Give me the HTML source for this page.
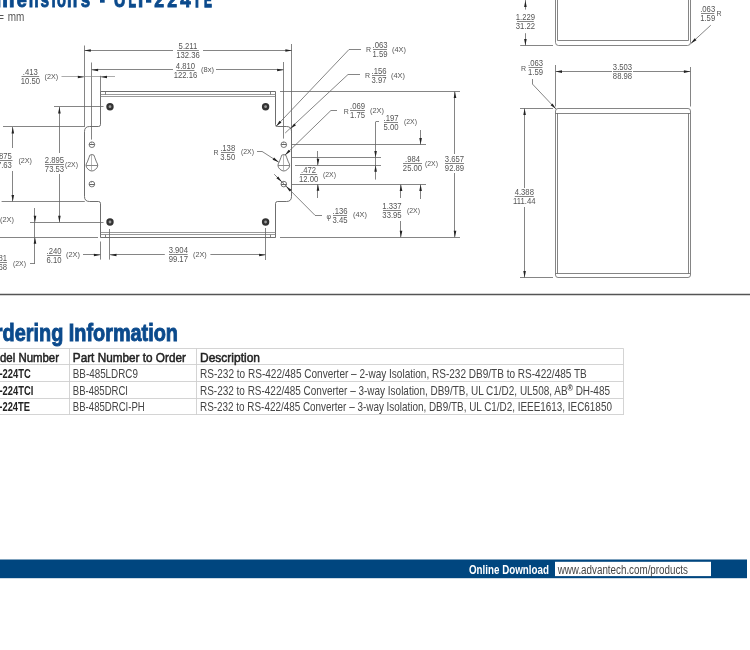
<!DOCTYPE html>
<html><head><meta charset="utf-8"><style>
html,body{margin:0;padding:0;background:#fff;width:750px;height:650px;overflow:hidden}
svg{display:block;will-change:transform;font-family:"Liberation Sans",sans-serif}
</style></head><body>
<svg width="750" height="650" viewBox="0 0 750 650">
<text x="-4.46" y="7.2" font-size="22" font-family="Liberation Sans" font-weight="bold" fill="#0b4a8c" stroke="#0b4a8c" stroke-width="0.9" textLength="19.05" lengthAdjust="spacingAndGlyphs">m</text>
<text x="16.74" y="7.2" font-size="22" font-family="Liberation Sans" font-weight="bold" fill="#0b4a8c" stroke="#0b4a8c" stroke-width="0.9" textLength="10.13" lengthAdjust="spacingAndGlyphs">e</text>
<text x="28.68" y="7.2" font-size="22" font-family="Liberation Sans" font-weight="bold" fill="#0b4a8c" stroke="#0b4a8c" stroke-width="0.9" textLength="9.86" lengthAdjust="spacingAndGlyphs">n</text>
<text x="40.61" y="7.2" font-size="22" font-family="Liberation Sans" font-weight="bold" fill="#0b4a8c" stroke="#0b4a8c" stroke-width="0.9" textLength="8.57" lengthAdjust="spacingAndGlyphs">s</text>
<text x="51.38" y="7.2" font-size="22" font-family="Liberation Sans" font-weight="bold" fill="#0b4a8c" stroke="#0b4a8c" stroke-width="0.9" textLength="4.26" lengthAdjust="spacingAndGlyphs">i</text>
<text x="56.88" y="7.2" font-size="22" font-family="Liberation Sans" font-weight="bold" fill="#0b4a8c" stroke="#0b4a8c" stroke-width="0.9" textLength="8.94" lengthAdjust="spacingAndGlyphs">o</text>
<text x="67.04" y="7.2" font-size="22" font-family="Liberation Sans" font-weight="bold" fill="#0b4a8c" stroke="#0b4a8c" stroke-width="0.9" textLength="10.24" lengthAdjust="spacingAndGlyphs">n</text>
<text x="80.86" y="7.2" font-size="22" font-family="Liberation Sans" font-weight="bold" fill="#0b4a8c" stroke="#0b4a8c" stroke-width="0.9" textLength="9.39" lengthAdjust="spacingAndGlyphs">s</text>
<text x="113.77" y="7.2" font-size="22" font-family="Liberation Sans" font-weight="bold" fill="#0b4a8c" stroke="#0b4a8c" stroke-width="0.9" textLength="11.78" lengthAdjust="spacingAndGlyphs">U</text>
<text x="128.59" y="7.2" font-size="22" font-family="Liberation Sans" font-weight="bold" fill="#0b4a8c" stroke="#0b4a8c" stroke-width="1.4" textLength="7.38" lengthAdjust="spacingAndGlyphs">L</text>
<text x="137.89" y="7.2" font-size="22" font-family="Liberation Sans" font-weight="bold" fill="#0b4a8c" stroke="#0b4a8c" stroke-width="0.9" textLength="5.21" lengthAdjust="spacingAndGlyphs">I</text>
<text x="154.13" y="7.2" font-size="22" font-family="Liberation Sans" font-weight="bold" fill="#0b4a8c" stroke="#0b4a8c" stroke-width="0.9" textLength="9.83" lengthAdjust="spacingAndGlyphs">2</text>
<text x="167.13" y="7.2" font-size="22" font-family="Liberation Sans" font-weight="bold" fill="#0b4a8c" stroke="#0b4a8c" stroke-width="0.9" textLength="9.83" lengthAdjust="spacingAndGlyphs">2</text>
<text x="180.17" y="7.2" font-size="22" font-family="Liberation Sans" font-weight="bold" fill="#0b4a8c" stroke="#0b4a8c" stroke-width="0.9" textLength="10.48" lengthAdjust="spacingAndGlyphs">4</text>
<text x="192.85" y="7.2" font-size="22" font-family="Liberation Sans" font-weight="bold" fill="#0b4a8c" stroke="#0b4a8c" stroke-width="1.4" textLength="8.40" lengthAdjust="spacingAndGlyphs">T</text>
<text x="203.91" y="7.2" font-size="22" font-family="Liberation Sans" font-weight="bold" fill="#0b4a8c" stroke="#0b4a8c" stroke-width="1.4" textLength="7.85" lengthAdjust="spacingAndGlyphs">E</text>
<rect x="100" y="-2" width="4.7" height="4.7" fill="#0b4a8c"/>
<rect x="146" y="-2" width="5.3" height="4.7" fill="#0b4a8c"/>
<text x="7.7" y="20.8" font-size="13.5" font-family="Liberation Sans" font-weight="normal" fill="#555" text-anchor="start" textLength="16.6" lengthAdjust="spacingAndGlyphs">mm</text>
<text x="4.2" y="20.8" font-size="13.5" font-family="Liberation Sans" font-weight="normal" fill="#555" text-anchor="end">=</text>
<path d="M100.5,91.5 L275.5,91.5 L275.5,124.5 Q275.5,126.5 277.5,126.5 L286.5,126.5 Q291.5,126.5 291.5,131.5 L291.5,196.5 Q291.5,201.5 286.5,201.5 L277.5,201.5 Q275.5,201.5 275.5,203.5 L275.5,237.5 L100.5,237.5 L100.5,203.5 Q100.5,201.5 98.5,201.5 L89.5,201.5 Q84.5,201.5 84.5,196.5 L84.5,131.5 Q84.5,126.5 89.5,126.5 L98.5,126.5 Q100.5,126.5 100.5,124.5 Z" stroke="#555" stroke-width="0.85" fill="none"/>
<line x1="100.5" y1="94.5" x2="275.6" y2="94.5" stroke="#808080" stroke-width="0.8"/>
<line x1="100.5" y1="96.5" x2="275.6" y2="96.5" stroke="#808080" stroke-width="0.8"/>
<line x1="105.5" y1="91.5" x2="105.5" y2="94.5" stroke="#666" stroke-width="0.8"/>
<line x1="270.5" y1="91.5" x2="270.5" y2="94.5" stroke="#666" stroke-width="0.8"/>
<line x1="100.5" y1="232.5" x2="275.6" y2="232.5" stroke="#808080" stroke-width="0.8"/>
<line x1="100.5" y1="234.5" x2="275.6" y2="234.5" stroke="#808080" stroke-width="0.8"/>
<line x1="105.5" y1="234.8" x2="105.5" y2="237.2" stroke="#666" stroke-width="0.8"/>
<line x1="270.5" y1="234.8" x2="270.5" y2="237.2" stroke="#666" stroke-width="0.8"/>
<circle cx="110" cy="106.7" r="3.7" fill="#333"/>
<circle cx="110" cy="106.7" r="1.4" fill="#999"/>
<circle cx="265.6" cy="106.7" r="3.7" fill="#333"/>
<circle cx="265.6" cy="106.7" r="1.4" fill="#999"/>
<circle cx="110" cy="222" r="3.7" fill="#333"/>
<circle cx="110" cy="222" r="1.4" fill="#999"/>
<circle cx="265.6" cy="222" r="3.7" fill="#333"/>
<circle cx="265.6" cy="222" r="1.4" fill="#999"/>
<circle cx="91.9" cy="144.7" r="2.8" stroke="#555" stroke-width="0.8" fill="none"/>
<line x1="89.30000000000001" y1="144.5" x2="94.5" y2="144.5" stroke="#555" stroke-width="0.9"/>
<line x1="91.5" y1="141.89999999999998" x2="91.5" y2="143.5" stroke="#666" stroke-width="0.5"/>
<circle cx="91.9" cy="184.1" r="2.8" stroke="#555" stroke-width="0.8" fill="none"/>
<line x1="89.30000000000001" y1="184.5" x2="94.5" y2="184.5" stroke="#555" stroke-width="0.9"/>
<line x1="91.5" y1="181.29999999999998" x2="91.5" y2="182.9" stroke="#666" stroke-width="0.5"/>
<path d="M89.10,157.3 A2.8,2.8 0 0 1 94.70,157.3 L96.45,161.9 A5.6,5.6 0 1 1 87.35,161.9 Z" stroke="#555" stroke-width="0.8" fill="none"/>
<line x1="86.30000000000001" y1="165.5" x2="97.5" y2="165.5" stroke="#555" stroke-width="0.7"/>
<line x1="91.5" y1="154.5" x2="91.5" y2="170.6" stroke="#888" stroke-width="0.6"/>
<circle cx="283.8" cy="144.7" r="2.8" stroke="#555" stroke-width="0.8" fill="none"/>
<line x1="281.2" y1="144.5" x2="286.40000000000003" y2="144.5" stroke="#555" stroke-width="0.9"/>
<line x1="283.5" y1="141.89999999999998" x2="283.5" y2="143.5" stroke="#666" stroke-width="0.5"/>
<circle cx="283.8" cy="184.1" r="2.8" stroke="#555" stroke-width="0.8" fill="none"/>
<line x1="281.2" y1="184.5" x2="286.40000000000003" y2="184.5" stroke="#555" stroke-width="0.9"/>
<line x1="283.5" y1="181.29999999999998" x2="283.5" y2="182.9" stroke="#666" stroke-width="0.5"/>
<path d="M281.00,157.3 A2.8,2.8 0 0 1 286.60,157.3 L288.35,161.9 A5.6,5.6 0 1 1 279.25,161.9 Z" stroke="#555" stroke-width="0.8" fill="none"/>
<line x1="278.2" y1="165.5" x2="289.40000000000003" y2="165.5" stroke="#555" stroke-width="0.7"/>
<line x1="283.5" y1="154.5" x2="283.5" y2="170.6" stroke="#888" stroke-width="0.6"/>
<line x1="84.5" y1="45.5" x2="84.5" y2="127" stroke="#666" stroke-width="0.8"/>
<line x1="291.5" y1="44" x2="291.5" y2="133" stroke="#666" stroke-width="0.8"/>
<line x1="84.3" y1="50.5" x2="173" y2="50.5" stroke="#666" stroke-width="0.8"/>
<line x1="203" y1="50.5" x2="291.9" y2="50.5" stroke="#666" stroke-width="0.8"/>
<path d="M84.30,50.50 L90.80,49.20 L90.80,51.80Z" fill="#222"/>
<path d="M291.90,50.50 L285.40,51.80 L285.40,49.20Z" fill="#222"/>
<line x1="177" y1="50.5" x2="198.9" y2="50.5" stroke="#666" stroke-width="0.8"/>
<text x="187.95" y="48.5" font-size="8.4" font-family="Liberation Sans" font-weight="normal" fill="#555" text-anchor="middle" textLength="18.7" lengthAdjust="spacingAndGlyphs">5.211</text>
<text x="187.95" y="58.0" font-size="8.4" font-family="Liberation Sans" font-weight="normal" fill="#555" text-anchor="middle" textLength="23.55" lengthAdjust="spacingAndGlyphs">132.36</text>
<line x1="91.5" y1="62.5" x2="91.5" y2="139.6" stroke="#666" stroke-width="0.8"/>
<line x1="283.5" y1="62" x2="283.5" y2="138.6" stroke="#666" stroke-width="0.8"/>
<line x1="91.6" y1="69.5" x2="173" y2="69.5" stroke="#666" stroke-width="0.8"/>
<line x1="216" y1="69.5" x2="283.6" y2="69.5" stroke="#666" stroke-width="0.8"/>
<path d="M91.60,70.00 L98.10,68.70 L98.10,71.30Z" fill="#222"/>
<path d="M283.60,70.00 L277.10,71.30 L277.10,68.70Z" fill="#222"/>
<line x1="176.5" y1="70.5" x2="194.5" y2="70.5" stroke="#666" stroke-width="0.8"/>
<text x="185.5" y="68.5" font-size="8.4" font-family="Liberation Sans" font-weight="normal" fill="#555" text-anchor="middle" textLength="19.27" lengthAdjust="spacingAndGlyphs">4.810</text>
<text x="185.5" y="78.0" font-size="8.4" font-family="Liberation Sans" font-weight="normal" fill="#555" text-anchor="middle" textLength="23.55" lengthAdjust="spacingAndGlyphs">122.16</text>
<text x="207.5" y="72.3" font-size="6.6" font-family="Liberation Sans" font-weight="normal" fill="#555" text-anchor="middle" textLength="13" lengthAdjust="spacingAndGlyphs">(8x)</text>
<line x1="61.5" y1="76.5" x2="115" y2="76.5" stroke="#888" stroke-width="0.7"/>
<path d="M84.30,77.00 L77.80,78.30 L77.80,75.70Z" fill="#222"/>
<path d="M100.50,77.00 L107.00,75.70 L107.00,78.30Z" fill="#222"/>
<line x1="100.5" y1="75.8" x2="100.5" y2="91.5" stroke="#666" stroke-width="0.8"/>
<line x1="21.5" y1="76.5" x2="39.2" y2="76.5" stroke="#666" stroke-width="0.8"/>
<text x="30.35" y="74.5" font-size="8.4" font-family="Liberation Sans" font-weight="normal" fill="#555" text-anchor="middle" textLength="14.99" lengthAdjust="spacingAndGlyphs">.413</text>
<text x="30.35" y="84.0" font-size="8.4" font-family="Liberation Sans" font-weight="normal" fill="#555" text-anchor="middle" textLength="19.27" lengthAdjust="spacingAndGlyphs">10.50</text>
<text x="51.400000000000006" y="79.3" font-size="6.6" font-family="Liberation Sans" font-weight="normal" fill="#555" text-anchor="middle" textLength="13.600000000000001" lengthAdjust="spacingAndGlyphs">(2X)</text>
<line x1="54" y1="106.5" x2="103.5" y2="106.5" stroke="#666" stroke-width="0.8"/>
<line x1="59.5" y1="107" x2="59.5" y2="153" stroke="#666" stroke-width="0.8"/>
<path d="M59.40,107.00 L60.70,113.50 L58.10,113.50Z" fill="#222"/>
<line x1="59.5" y1="174" x2="59.5" y2="222.2" stroke="#666" stroke-width="0.8"/>
<path d="M59.40,222.20 L58.10,215.70 L60.70,215.70Z" fill="#222"/>
<line x1="45" y1="164.5" x2="64" y2="164.5" stroke="#666" stroke-width="0.8"/>
<text x="54.5" y="162.5" font-size="8.4" font-family="Liberation Sans" font-weight="normal" fill="#555" text-anchor="middle" textLength="19.27" lengthAdjust="spacingAndGlyphs">2.895</text>
<text x="54.5" y="172.0" font-size="8.4" font-family="Liberation Sans" font-weight="normal" fill="#555" text-anchor="middle" textLength="19.27" lengthAdjust="spacingAndGlyphs">73.53</text>
<text x="71.5" y="166.70000000000002" font-size="6.6" font-family="Liberation Sans" font-weight="normal" fill="#555" text-anchor="middle" textLength="13" lengthAdjust="spacingAndGlyphs">(2X)</text>
<line x1="3" y1="126.5" x2="84.3" y2="126.5" stroke="#666" stroke-width="0.8"/>
<line x1="1.6" y1="201.5" x2="84.8" y2="201.5" stroke="#666" stroke-width="0.8"/>
<line x1="12.5" y1="127" x2="12.5" y2="148" stroke="#666" stroke-width="0.8"/>
<path d="M12.80,127.00 L14.10,133.50 L11.50,133.50Z" fill="#222"/>
<line x1="12.5" y1="171" x2="12.5" y2="201.5" stroke="#666" stroke-width="0.8"/>
<path d="M12.80,201.50 L11.50,195.00 L14.10,195.00Z" fill="#222"/>
<line x1="-8" y1="160.5" x2="12.5" y2="160.5" stroke="#666" stroke-width="0.8"/>
<text x="2.25" y="158.5" font-size="8.4" font-family="Liberation Sans" font-weight="normal" fill="#555" text-anchor="middle" textLength="19.27" lengthAdjust="spacingAndGlyphs">1.875</text>
<text x="2.25" y="168.0" font-size="8.4" font-family="Liberation Sans" font-weight="normal" fill="#555" text-anchor="middle" textLength="19.27" lengthAdjust="spacingAndGlyphs">47.63</text>
<text x="25.2" y="162.70000000000002" font-size="6.6" font-family="Liberation Sans" font-weight="normal" fill="#555" text-anchor="middle" textLength="13.600000000000001" lengthAdjust="spacingAndGlyphs">(2X)</text>
<text x="7.0" y="221.9" font-size="6.6" font-family="Liberation Sans" font-weight="normal" fill="#555" text-anchor="middle" textLength="14" lengthAdjust="spacingAndGlyphs">(2X)</text>
<line x1="30" y1="222.5" x2="103.5" y2="222.5" stroke="#666" stroke-width="0.8"/>
<line x1="0" y1="237.5" x2="98" y2="237.5" stroke="#666" stroke-width="0.8"/>
<line x1="34.5" y1="208" x2="34.5" y2="263.6" stroke="#666" stroke-width="0.8"/>
<path d="M35.00,222.20 L33.70,215.70 L36.30,215.70Z" fill="#222"/>
<path d="M35.00,237.20 L36.30,243.70 L33.70,243.70Z" fill="#222"/>
<line x1="30" y1="263.5" x2="35" y2="263.5" stroke="#666" stroke-width="0.8"/>
<line x1="-8" y1="262.5" x2="7" y2="262.5" stroke="#666" stroke-width="0.8"/>
<text x="-0.5" y="260.5" font-size="8.4" font-family="Liberation Sans" font-weight="normal" fill="#555" text-anchor="middle" textLength="14.99" lengthAdjust="spacingAndGlyphs">.381</text>
<text x="-0.5" y="270.0" font-size="8.4" font-family="Liberation Sans" font-weight="normal" fill="#555" text-anchor="middle" textLength="14.99" lengthAdjust="spacingAndGlyphs">9.68</text>
<text x="19.5" y="265.90000000000003" font-size="6.6" font-family="Liberation Sans" font-weight="normal" fill="#555" text-anchor="middle" textLength="13" lengthAdjust="spacingAndGlyphs">(2X)</text>
<line x1="100.5" y1="241.5" x2="100.5" y2="259.6" stroke="#666" stroke-width="0.8"/>
<line x1="109.5" y1="229" x2="109.5" y2="259.6" stroke="#666" stroke-width="0.8"/>
<line x1="265.5" y1="228" x2="265.5" y2="260" stroke="#666" stroke-width="0.8"/>
<line x1="83" y1="254.5" x2="100.4" y2="254.5" stroke="#666" stroke-width="0.8"/>
<path d="M100.40,255.00 L93.90,256.30 L93.90,253.70Z" fill="#222"/>
<line x1="110" y1="254.5" x2="164.8" y2="254.5" stroke="#666" stroke-width="0.8"/>
<path d="M110.00,255.00 L116.50,253.70 L116.50,256.30Z" fill="#222"/>
<line x1="210.4" y1="254.5" x2="265.6" y2="254.5" stroke="#666" stroke-width="0.8"/>
<path d="M265.60,255.00 L259.10,256.30 L259.10,253.70Z" fill="#222"/>
<line x1="47" y1="255.5" x2="61" y2="255.5" stroke="#666" stroke-width="0.8"/>
<text x="54.0" y="253.5" font-size="8.4" font-family="Liberation Sans" font-weight="normal" fill="#555" text-anchor="middle" textLength="14.99" lengthAdjust="spacingAndGlyphs">.240</text>
<text x="54.0" y="263.0" font-size="8.4" font-family="Liberation Sans" font-weight="normal" fill="#555" text-anchor="middle" textLength="14.99" lengthAdjust="spacingAndGlyphs">6.10</text>
<text x="73.0" y="257.3" font-size="6.6" font-family="Liberation Sans" font-weight="normal" fill="#555" text-anchor="middle" textLength="14" lengthAdjust="spacingAndGlyphs">(2X)</text>
<line x1="169" y1="254.5" x2="187.6" y2="254.5" stroke="#666" stroke-width="0.8"/>
<text x="178.3" y="252.5" font-size="8.4" font-family="Liberation Sans" font-weight="normal" fill="#555" text-anchor="middle" textLength="19.27" lengthAdjust="spacingAndGlyphs">3.904</text>
<text x="178.3" y="262.0" font-size="8.4" font-family="Liberation Sans" font-weight="normal" fill="#555" text-anchor="middle" textLength="19.27" lengthAdjust="spacingAndGlyphs">99.17</text>
<text x="199.9" y="257.3" font-size="6.6" font-family="Liberation Sans" font-weight="normal" fill="#555" text-anchor="middle" textLength="13.800000000000011" lengthAdjust="spacingAndGlyphs">(2X)</text>
<line x1="280" y1="91.5" x2="460" y2="91.5" stroke="#666" stroke-width="0.8"/>
<line x1="280" y1="237.5" x2="460" y2="237.5" stroke="#666" stroke-width="0.8"/>
<line x1="454.5" y1="91.5" x2="454.5" y2="154" stroke="#666" stroke-width="0.8"/>
<path d="M455.00,91.50 L456.30,98.00 L453.70,98.00Z" fill="#222"/>
<line x1="454.5" y1="173" x2="454.5" y2="237.2" stroke="#666" stroke-width="0.8"/>
<path d="M455.00,237.20 L453.70,230.70 L456.30,230.70Z" fill="#222"/>
<line x1="445" y1="163.5" x2="464" y2="163.5" stroke="#666" stroke-width="0.8"/>
<text x="454.5" y="161.5" font-size="8.4" font-family="Liberation Sans" font-weight="normal" fill="#555" text-anchor="middle" textLength="19.27" lengthAdjust="spacingAndGlyphs">3.657</text>
<text x="454.5" y="171.0" font-size="8.4" font-family="Liberation Sans" font-weight="normal" fill="#555" text-anchor="middle" textLength="19.27" lengthAdjust="spacingAndGlyphs">92.89</text>
<line x1="292" y1="144.5" x2="426" y2="144.5" stroke="#666" stroke-width="0.8"/>
<line x1="292" y1="157.5" x2="381" y2="157.5" stroke="#666" stroke-width="0.8"/>
<line x1="295" y1="165.5" x2="381" y2="165.5" stroke="#666" stroke-width="0.8"/>
<line x1="292" y1="184.5" x2="426" y2="184.5" stroke="#666" stroke-width="0.8"/>
<line x1="375.5" y1="122" x2="375.5" y2="179.6" stroke="#666" stroke-width="0.8"/>
<line x1="375.6" y1="121.5" x2="379" y2="121.5" stroke="#666" stroke-width="0.8"/>
<path d="M375.60,157.50 L374.30,151.00 L376.90,151.00Z" fill="#222"/>
<path d="M375.60,165.20 L376.90,171.70 L374.30,171.70Z" fill="#222"/>
<line x1="384" y1="122.5" x2="398" y2="122.5" stroke="#666" stroke-width="0.8"/>
<text x="391.0" y="120.5" font-size="8.4" font-family="Liberation Sans" font-weight="normal" fill="#555" text-anchor="middle" textLength="14.99" lengthAdjust="spacingAndGlyphs">.197</text>
<text x="391.0" y="130.0" font-size="8.4" font-family="Liberation Sans" font-weight="normal" fill="#555" text-anchor="middle" textLength="14.99" lengthAdjust="spacingAndGlyphs">5.00</text>
<text x="410.5" y="124.3" font-size="6.6" font-family="Liberation Sans" font-weight="normal" fill="#555" text-anchor="middle" textLength="13" lengthAdjust="spacingAndGlyphs">(2X)</text>
<line x1="420.5" y1="130" x2="420.5" y2="144.6" stroke="#666" stroke-width="0.8"/>
<path d="M420.60,144.60 L419.30,138.10 L421.90,138.10Z" fill="#222"/>
<line x1="420.5" y1="184.4" x2="420.5" y2="199" stroke="#666" stroke-width="0.8"/>
<path d="M420.60,184.40 L421.90,190.90 L419.30,190.90Z" fill="#222"/>
<line x1="403" y1="163.5" x2="422" y2="163.5" stroke="#666" stroke-width="0.8"/>
<text x="412.5" y="161.5" font-size="8.4" font-family="Liberation Sans" font-weight="normal" fill="#555" text-anchor="middle" textLength="14.99" lengthAdjust="spacingAndGlyphs">.984</text>
<text x="412.5" y="171.0" font-size="8.4" font-family="Liberation Sans" font-weight="normal" fill="#555" text-anchor="middle" textLength="19.27" lengthAdjust="spacingAndGlyphs">25.00</text>
<text x="431.5" y="166.3" font-size="6.6" font-family="Liberation Sans" font-weight="normal" fill="#555" text-anchor="middle" textLength="13" lengthAdjust="spacingAndGlyphs">(2X)</text>
<line x1="400.5" y1="184.4" x2="400.5" y2="198" stroke="#666" stroke-width="0.8"/>
<path d="M401.00,184.40 L402.30,190.90 L399.70,190.90Z" fill="#222"/>
<line x1="400.5" y1="221" x2="400.5" y2="237.2" stroke="#666" stroke-width="0.8"/>
<path d="M401.00,237.20 L399.70,230.70 L402.30,230.70Z" fill="#222"/>
<line x1="383" y1="210.5" x2="401" y2="210.5" stroke="#666" stroke-width="0.8"/>
<text x="392.0" y="208.5" font-size="8.4" font-family="Liberation Sans" font-weight="normal" fill="#555" text-anchor="middle" textLength="19.27" lengthAdjust="spacingAndGlyphs">1.337</text>
<text x="392.0" y="218.0" font-size="8.4" font-family="Liberation Sans" font-weight="normal" fill="#555" text-anchor="middle" textLength="19.27" lengthAdjust="spacingAndGlyphs">33.95</text>
<text x="413.5" y="213.3" font-size="6.6" font-family="Liberation Sans" font-weight="normal" fill="#555" text-anchor="middle" textLength="13" lengthAdjust="spacingAndGlyphs">(2X)</text>
<line x1="317.5" y1="151" x2="317.5" y2="165.2" stroke="#666" stroke-width="0.8"/>
<path d="M318.00,165.20 L316.70,158.70 L319.30,158.70Z" fill="#222"/>
<line x1="317.5" y1="184.2" x2="317.5" y2="198" stroke="#666" stroke-width="0.8"/>
<path d="M318.00,184.20 L319.30,190.70 L316.70,190.70Z" fill="#222"/>
<line x1="300" y1="174.5" x2="317.2" y2="174.5" stroke="#666" stroke-width="0.8"/>
<text x="308.6" y="172.5" font-size="8.4" font-family="Liberation Sans" font-weight="normal" fill="#555" text-anchor="middle" textLength="14.99" lengthAdjust="spacingAndGlyphs">.472</text>
<text x="308.6" y="182.0" font-size="8.4" font-family="Liberation Sans" font-weight="normal" fill="#555" text-anchor="middle" textLength="19.27" lengthAdjust="spacingAndGlyphs">12.00</text>
<text x="329.5" y="177.3" font-size="6.6" font-family="Liberation Sans" font-weight="normal" fill="#555" text-anchor="middle" textLength="13" lengthAdjust="spacingAndGlyphs">(2X)</text>
<line x1="349" y1="49.5" x2="361" y2="49.5" stroke="#666" stroke-width="0.8"/>
<line x1="349" y1="49.5" x2="276" y2="126.4" stroke="#666" stroke-width="0.8"/>
<path d="M276.00,126.40 L279.53,120.79 L281.42,122.58Z" fill="#222"/>
<text x="366" y="52.3" font-size="7" font-family="Liberation Sans" font-weight="normal" fill="#555" text-anchor="start">R</text>
<line x1="373" y1="49.5" x2="387" y2="49.5" stroke="#666" stroke-width="0.8"/>
<text x="380.0" y="47.5" font-size="8.4" font-family="Liberation Sans" font-weight="normal" fill="#555" text-anchor="middle" textLength="14.99" lengthAdjust="spacingAndGlyphs">.063</text>
<text x="380.0" y="57.0" font-size="8.4" font-family="Liberation Sans" font-weight="normal" fill="#555" text-anchor="middle" textLength="14.99" lengthAdjust="spacingAndGlyphs">1.59</text>
<text x="399.0" y="52.3" font-size="6.6" font-family="Liberation Sans" font-weight="normal" fill="#555" text-anchor="middle" textLength="14" lengthAdjust="spacingAndGlyphs">(4X)</text>
<line x1="348" y1="74.5" x2="360" y2="74.5" stroke="#666" stroke-width="0.8"/>
<line x1="348" y1="74.5" x2="285.2" y2="133" stroke="#666" stroke-width="0.8"/>
<path d="M290.40,128.80 L294.24,123.40 L296.02,125.29Z" fill="#222"/>
<text x="365" y="78.3" font-size="7" font-family="Liberation Sans" font-weight="normal" fill="#555" text-anchor="start">R</text>
<line x1="372" y1="75.5" x2="386" y2="75.5" stroke="#666" stroke-width="0.8"/>
<text x="379.0" y="73.5" font-size="8.4" font-family="Liberation Sans" font-weight="normal" fill="#555" text-anchor="middle" textLength="14.99" lengthAdjust="spacingAndGlyphs">.156</text>
<text x="379.0" y="83.0" font-size="8.4" font-family="Liberation Sans" font-weight="normal" fill="#555" text-anchor="middle" textLength="14.99" lengthAdjust="spacingAndGlyphs">3.97</text>
<text x="398.0" y="77.8" font-size="6.6" font-family="Liberation Sans" font-weight="normal" fill="#555" text-anchor="middle" textLength="14" lengthAdjust="spacingAndGlyphs">(4X)</text>
<line x1="331" y1="110.5" x2="337" y2="110.5" stroke="#666" stroke-width="0.8"/>
<line x1="331" y1="110.4" x2="284.9" y2="155.2" stroke="#666" stroke-width="0.8"/>
<path d="M284.90,155.20 L288.65,149.73 L290.46,151.60Z" fill="#222"/>
<text x="343.8" y="113.5" font-size="7" font-family="Liberation Sans" font-weight="normal" fill="#555" text-anchor="start">R</text>
<line x1="350" y1="110.5" x2="365" y2="110.5" stroke="#666" stroke-width="0.8"/>
<text x="357.5" y="108.5" font-size="8.4" font-family="Liberation Sans" font-weight="normal" fill="#555" text-anchor="middle" textLength="14.99" lengthAdjust="spacingAndGlyphs">.069</text>
<text x="357.5" y="118.0" font-size="8.4" font-family="Liberation Sans" font-weight="normal" fill="#555" text-anchor="middle" textLength="14.99" lengthAdjust="spacingAndGlyphs">1.75</text>
<text x="377.0" y="112.7" font-size="6.6" font-family="Liberation Sans" font-weight="normal" fill="#555" text-anchor="middle" textLength="14" lengthAdjust="spacingAndGlyphs">(2X)</text>
<line x1="257" y1="151.5" x2="262" y2="151.5" stroke="#666" stroke-width="0.8"/>
<line x1="262" y1="151.4" x2="278.8" y2="162.2" stroke="#666" stroke-width="0.8"/>
<path d="M278.80,162.20 L272.63,159.78 L274.04,157.59Z" fill="#222"/>
<text x="213.6" y="154.7" font-size="7" font-family="Liberation Sans" font-weight="normal" fill="#555" text-anchor="start">R</text>
<line x1="221" y1="152.5" x2="234.4" y2="152.5" stroke="#666" stroke-width="0.8"/>
<text x="227.7" y="150.5" font-size="8.4" font-family="Liberation Sans" font-weight="normal" fill="#555" text-anchor="middle" textLength="14.99" lengthAdjust="spacingAndGlyphs">.138</text>
<text x="227.7" y="160.0" font-size="8.4" font-family="Liberation Sans" font-weight="normal" fill="#555" text-anchor="middle" textLength="14.99" lengthAdjust="spacingAndGlyphs">3.50</text>
<text x="247.5" y="154.3" font-size="6.6" font-family="Liberation Sans" font-weight="normal" fill="#555" text-anchor="middle" textLength="13" lengthAdjust="spacingAndGlyphs">(2X)</text>
<line x1="274.2" y1="174.2" x2="315" y2="215.3" stroke="#666" stroke-width="0.8"/>
<line x1="315" y1="215.5" x2="322" y2="215.5" stroke="#666" stroke-width="0.8"/>
<path d="M281.90,182.00 L276.38,178.32 L278.22,176.48Z" fill="#222"/>
<path d="M285.90,186.10 L291.42,189.78 L289.58,191.62Z" fill="#222"/>
<text x="326.5" y="218.5" font-size="7" font-family="Liberation Sans" font-weight="normal" fill="#555" text-anchor="start">φ</text>
<line x1="333" y1="215.5" x2="347" y2="215.5" stroke="#666" stroke-width="0.8"/>
<text x="340.0" y="213.5" font-size="8.4" font-family="Liberation Sans" font-weight="normal" fill="#555" text-anchor="middle" textLength="14.99" lengthAdjust="spacingAndGlyphs">.136</text>
<text x="340.0" y="223.0" font-size="8.4" font-family="Liberation Sans" font-weight="normal" fill="#555" text-anchor="middle" textLength="14.99" lengthAdjust="spacingAndGlyphs">3.45</text>
<text x="360.0" y="217.3" font-size="6.6" font-family="Liberation Sans" font-weight="normal" fill="#555" text-anchor="middle" textLength="14" lengthAdjust="spacingAndGlyphs">(4X)</text>
<path d="M555.5,0 L555.5,42.5 Q555.5,45.5 558.5,45.5 L687.5,45.5 Q690.5,45.5 690.5,42.5 L690.5,0" stroke="#666" stroke-width="0.8" fill="none"/>
<line x1="557.5" y1="0" x2="557.5" y2="40.4" stroke="#666" stroke-width="0.8"/>
<line x1="557.4" y1="40.5" x2="688.6" y2="40.5" stroke="#666" stroke-width="0.8"/>
<line x1="688.5" y1="0" x2="688.5" y2="40.4" stroke="#666" stroke-width="0.8"/>
<line x1="525.5" y1="0" x2="525.5" y2="9.6" stroke="#666" stroke-width="0.8"/>
<path d="M525.40,0.50 L526.70,7.00 L524.10,7.00Z" fill="#222"/>
<line x1="525.5" y1="33.2" x2="525.5" y2="45.5" stroke="#666" stroke-width="0.8"/>
<path d="M525.40,45.50 L524.10,39.00 L526.70,39.00Z" fill="#222"/>
<line x1="520.2" y1="45.5" x2="553" y2="45.5" stroke="#666" stroke-width="0.8"/>
<line x1="517" y1="21.5" x2="533.8" y2="21.5" stroke="#666" stroke-width="0.8"/>
<text x="525.4" y="19.5" font-size="8.4" font-family="Liberation Sans" font-weight="normal" fill="#555" text-anchor="middle" textLength="19.27" lengthAdjust="spacingAndGlyphs">1.229</text>
<text x="525.4" y="29.0" font-size="8.4" font-family="Liberation Sans" font-weight="normal" fill="#555" text-anchor="middle" textLength="19.27" lengthAdjust="spacingAndGlyphs">31.22</text>
<line x1="710.8" y1="25.2" x2="690.8" y2="43.6" stroke="#666" stroke-width="0.8"/>
<path d="M690.80,43.60 L694.70,38.24 L696.46,40.16Z" fill="#222"/>
<line x1="701" y1="13.5" x2="714.4" y2="13.5" stroke="#666" stroke-width="0.8"/>
<text x="707.7" y="11.5" font-size="8.4" font-family="Liberation Sans" font-weight="normal" fill="#555" text-anchor="middle" textLength="14.99" lengthAdjust="spacingAndGlyphs">.063</text>
<text x="707.7" y="21.0" font-size="8.4" font-family="Liberation Sans" font-weight="normal" fill="#555" text-anchor="middle" textLength="14.99" lengthAdjust="spacingAndGlyphs">1.59</text>
<text x="716.5" y="15.6" font-size="7" font-family="Liberation Sans" font-weight="normal" fill="#555" text-anchor="start">R</text>
<path d="M555.5,111 Q555.5,108.5 558,108.5 L688,108.5 Q690.5,108.5 690.5,111 L690.5,275 Q690.5,277.5 688,277.5 L558,277.5 Q555.5,277.5 555.5,275 Z" stroke="#666" stroke-width="0.8" fill="none"/>
<line x1="557.5" y1="113.3" x2="557.5" y2="273.6" stroke="#666" stroke-width="0.8"/>
<line x1="688.5" y1="113.3" x2="688.5" y2="273.6" stroke="#666" stroke-width="0.8"/>
<line x1="555.4" y1="113.5" x2="690.3" y2="113.5" stroke="#666" stroke-width="0.8"/>
<line x1="555.4" y1="273.5" x2="690.3" y2="273.5" stroke="#666" stroke-width="0.8"/>
<line x1="555.5" y1="65" x2="555.5" y2="106.5" stroke="#666" stroke-width="0.8"/>
<line x1="690.5" y1="67" x2="690.5" y2="106.5" stroke="#666" stroke-width="0.8"/>
<line x1="555.5" y1="71.5" x2="612" y2="71.5" stroke="#666" stroke-width="0.8"/>
<path d="M555.50,71.60 L562.00,70.30 L562.00,72.90Z" fill="#222"/>
<line x1="633" y1="71.5" x2="690.4" y2="71.5" stroke="#666" stroke-width="0.8"/>
<path d="M690.40,71.60 L683.90,72.90 L683.90,70.30Z" fill="#222"/>
<line x1="613" y1="71.5" x2="632" y2="71.5" stroke="#666" stroke-width="0.8"/>
<text x="622.5" y="69.5" font-size="8.4" font-family="Liberation Sans" font-weight="normal" fill="#555" text-anchor="middle" textLength="19.27" lengthAdjust="spacingAndGlyphs">3.503</text>
<text x="622.5" y="79.0" font-size="8.4" font-family="Liberation Sans" font-weight="normal" fill="#555" text-anchor="middle" textLength="19.27" lengthAdjust="spacingAndGlyphs">88.98</text>
<text x="521" y="70.5" font-size="7" font-family="Liberation Sans" font-weight="normal" fill="#555" text-anchor="start">R</text>
<line x1="528.6" y1="67.5" x2="542.4" y2="67.5" stroke="#666" stroke-width="0.8"/>
<text x="535.5" y="65.5" font-size="8.4" font-family="Liberation Sans" font-weight="normal" fill="#555" text-anchor="middle" textLength="14.99" lengthAdjust="spacingAndGlyphs">.063</text>
<text x="535.5" y="75.0" font-size="8.4" font-family="Liberation Sans" font-weight="normal" fill="#555" text-anchor="middle" textLength="14.99" lengthAdjust="spacingAndGlyphs">1.59</text>
<line x1="532.5" y1="79" x2="532.5" y2="84" stroke="#666" stroke-width="0.8"/>
<line x1="532.4" y1="84" x2="556" y2="109" stroke="#666" stroke-width="0.8"/>
<path d="M556.00,109.00 L550.59,105.17 L552.48,103.38Z" fill="#222"/>
<line x1="520" y1="108.5" x2="553" y2="108.5" stroke="#666" stroke-width="0.8"/>
<line x1="520" y1="277.5" x2="553" y2="277.5" stroke="#666" stroke-width="0.8"/>
<line x1="524.5" y1="108.4" x2="524.5" y2="188" stroke="#666" stroke-width="0.8"/>
<path d="M524.60,108.40 L525.90,114.90 L523.30,114.90Z" fill="#222"/>
<line x1="524.5" y1="207" x2="524.5" y2="277.5" stroke="#666" stroke-width="0.8"/>
<path d="M524.60,277.50 L523.30,271.00 L525.90,271.00Z" fill="#222"/>
<line x1="514.8" y1="196.5" x2="533.8" y2="196.5" stroke="#666" stroke-width="0.8"/>
<text x="524.3" y="194.5" font-size="8.4" font-family="Liberation Sans" font-weight="normal" fill="#555" text-anchor="middle" textLength="19.27" lengthAdjust="spacingAndGlyphs">4.388</text>
<text x="524.3" y="204.0" font-size="8.4" font-family="Liberation Sans" font-weight="normal" fill="#555" text-anchor="middle" textLength="22.41" lengthAdjust="spacingAndGlyphs">111.44</text>
<line x1="0" y1="294.5" x2="750" y2="294.5" stroke="#555" stroke-width="1.6"/>
<text x="-20.6" y="341" font-size="23" font-family="Liberation Sans" font-weight="bold" fill="#0b4a8c" text-anchor="start" textLength="198.6" lengthAdjust="spacingAndGlyphs" stroke="#0b4a8c" stroke-width="0.9">Ordering Information</text>
<line x1="-10" y1="348.5" x2="623.3" y2="348.5" stroke="#cfcfcf" stroke-width="0.9"/>
<line x1="-10" y1="364.5" x2="623.3" y2="364.5" stroke="#cfcfcf" stroke-width="0.9"/>
<line x1="-10" y1="381.5" x2="623.3" y2="381.5" stroke="#cfcfcf" stroke-width="0.9"/>
<line x1="-10" y1="398.5" x2="623.3" y2="398.5" stroke="#cfcfcf" stroke-width="0.9"/>
<line x1="-10" y1="414.5" x2="623.3" y2="414.5" stroke="#cfcfcf" stroke-width="0.9"/>
<line x1="69.5" y1="348.3" x2="69.5" y2="415" stroke="#cfcfcf" stroke-width="0.9"/>
<line x1="196.5" y1="348.3" x2="196.5" y2="415" stroke="#cfcfcf" stroke-width="0.9"/>
<line x1="623.5" y1="348.3" x2="623.5" y2="415" stroke="#cfcfcf" stroke-width="0.9"/>
<text x="-15.9" y="361.7" font-size="12.8" font-family="Liberation Sans" font-weight="normal" fill="#222" text-anchor="start" textLength="74.9" lengthAdjust="spacingAndGlyphs" stroke="#222" stroke-width="0.5">Model Number</text>
<text x="72.8" y="361.7" font-size="12.8" font-family="Liberation Sans" font-weight="normal" fill="#222" text-anchor="start" textLength="113.1" lengthAdjust="spacingAndGlyphs" stroke="#222" stroke-width="0.5">Part Number to Order</text>
<text x="200" y="361.7" font-size="12.8" font-family="Liberation Sans" font-weight="normal" fill="#222" text-anchor="start" textLength="60" lengthAdjust="spacingAndGlyphs" stroke="#222" stroke-width="0.5">Description</text>
<text x="-15.7" y="378" font-size="12.2" font-family="Liberation Sans" font-weight="bold" fill="#222" text-anchor="start" textLength="46.5" lengthAdjust="spacingAndGlyphs">ULI-224TC</text>
<text x="72.8" y="378" font-size="12.4" font-family="Liberation Sans" font-weight="normal" fill="#444" text-anchor="start" textLength="65.1" lengthAdjust="spacingAndGlyphs">BB-485LDRC9</text>
<text x="200" y="378" font-size="12.4" font-family="Liberation Sans" font-weight="normal" fill="#444" text-anchor="start" textLength="386.8" lengthAdjust="spacingAndGlyphs">RS-232 to RS-422/485 Converter – 2-way Isolation, RS-232 DB9/TB to RS-422/485 TB</text>
<text x="-15.7" y="394.8" font-size="12.2" font-family="Liberation Sans" font-weight="bold" fill="#222" text-anchor="start" textLength="49.0" lengthAdjust="spacingAndGlyphs">ULI-224TCI</text>
<text x="72.8" y="394.8" font-size="12.4" font-family="Liberation Sans" font-weight="normal" fill="#444" text-anchor="start" textLength="55.2" lengthAdjust="spacingAndGlyphs">BB-485DRCI</text>
<text x="200" y="394.8" font-size="12.4" font-family="Liberation Sans" font-weight="normal" fill="#444" text-anchor="start" textLength="410" lengthAdjust="spacingAndGlyphs">RS-232 to RS-422/485 Converter – 3-way Isolation, DB9/TB, UL C1/D2, UL508, AB<tspan font-size="9" font-weight="bold" dy="-3.5">®</tspan><tspan dy="3.5"> DH-485</tspan></text>
<text x="-15.7" y="411.4" font-size="12.2" font-family="Liberation Sans" font-weight="bold" fill="#222" text-anchor="start" textLength="45.7" lengthAdjust="spacingAndGlyphs">ULI-224TE</text>
<text x="72.8" y="411.4" font-size="12.4" font-family="Liberation Sans" font-weight="normal" fill="#444" text-anchor="start" textLength="72.0" lengthAdjust="spacingAndGlyphs">BB-485DRCI-PH</text>
<text x="200" y="411.4" font-size="12.4" font-family="Liberation Sans" font-weight="normal" fill="#444" text-anchor="start" textLength="411.9" lengthAdjust="spacingAndGlyphs">RS-232 to RS-422/485 Converter – 3-way Isolation, DB9/TB, UL C1/D2, IEEE1613, IEC61850</text>
<rect x="-5" y="559.5" width="752" height="18.7" fill="#00467f"/>
<rect x="555" y="561.8" width="156" height="14.3" fill="#fff"/>
<text x="469" y="573.9" font-size="12.6" font-family="Liberation Sans" font-weight="bold" fill="#fff" text-anchor="start" textLength="80" lengthAdjust="spacingAndGlyphs">Online Download</text>
<text x="557.7" y="573.7" font-size="12" font-family="Liberation Sans" font-weight="normal" fill="#444" text-anchor="start" textLength="130.3" lengthAdjust="spacingAndGlyphs">www.advantech.com/products</text>
</svg>
</body></html>
